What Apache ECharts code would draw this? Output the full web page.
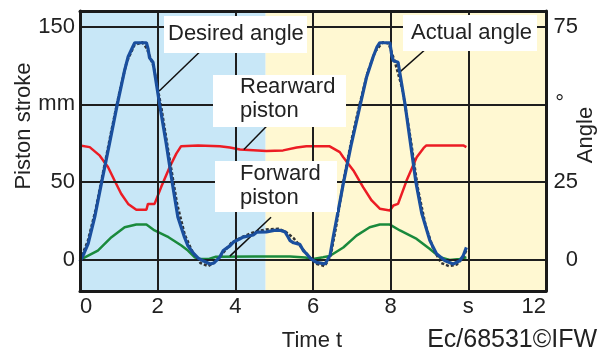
<!DOCTYPE html>
<html><head><meta charset="utf-8">
<script src="https://cdn.jsdelivr.net/npm/echarts@6/dist/echarts.min.js"></script>
<style>html,body{margin:0;padding:0;background:#fff}#c{width:597px;height:352px}</style>
</head><body><div id="c"></div>
<script>
// ---- data (time in s) ----
const xTickLabels = {0:'0',2:'2',4:'4',6:'6',8:'8',10:'s',12:'12'};
const strokeTickLabels = {0:'0',50:'50',100:'mm',150:'150'};
const angleTickLabels = {0:'0',25:'25',50:'°',75:'75'};
const phaseSplit = 4.78;

const actualTime = [0,0.1,0.21,0.38,0.55,0.76,0.96,1.15,1.24,1.36,1.41,1.71,1.75,1.79,1.88,2.05,2.22,2.38,2.52,2.69,2.78,2.93,3.05,3.17,3.35,3.45,3.6,3.69,3.86,3.95,4.12,4.2,4.46,4.55,4.8,5.0,5.15,5.28,5.35,5.41,5.5,5.66,5.75,5.83,5.95,6.09,6.31,6.44,6.52,6.65,6.78,6.99,7.21,7.38,7.55,7.65,7.72,7.98,8.03,8.07,8.19,8.37,8.51,8.65,8.8,9.01,9.18,9.4,9.61,9.78,9.87,9.92,9.95];
const actualAngle = [-0.5,2,5.2,13.8,24.5,37.4,50,61,65.3,68.5,69.8,69.8,68,65,63.5,50,37.4,24.5,13.8,7.3,4.5,2,0.5,-0.3,-1.3,-1,0.9,3,4.5,5.7,6.8,7.3,8,8.9,9,9.5,9.5,9,7.5,6.2,5.5,5,3,2,0.3,-0.8,-1.3,1.5,7.3,15.9,24.5,37.4,49.5,58.8,65.3,68.5,69.8,69.8,65.5,64,63.5,50,37.5,25,15,6.2,2,-0.3,-1.3,-0.3,1.4,1.5,4];

const desiredTime = [0,0.2,0.4,0.6,0.8,1.0,1.2,1.4,1.6,1.72,1.9,2.1,2.3,2.5,2.7,2.9,3.1,3.3,3.5,3.7,3.9,4.2,4.5,4.8,5.1,5.3,5.5,5.7,5.9,6.1,6.3,6.45,6.6,6.8,7.0,7.2,7.4,7.6,7.8,7.95,8.1,8.3,8.5,8.7,8.9,9.1,9.3,9.5,9.7,9.85,9.95];
const desiredAngle = [0,6,16,28.5,41,53,63.5,69,70,68,62,48.5,33,18,8,2.5,-1,-2,-0.5,2.5,5.5,7.5,9,9.8,10,9,7,4,1,-1.3,-2,1,11,26.5,39,50,60,67,70,69.5,64,55,40,23,11,3.5,-1,-2,-1.5,0.5,3];

const rearTime = [0,0.25,0.51,0.72,0.89,1.06,1.24,1.45,1.71,1.75,1.92,2.09,2.31,2.48,2.6,2.65,3.04,3.6,3.86,4.12,4.8,5.23,5.58,5.83,6.43,6.69,6.78,7.04,7.29,7.51,7.72,7.98,8.07,8.19,8.41,8.67,8.85,8.92,9.87,9.95];
const rearStroke = [73.6,72.5,67,59.7,51,42.5,36,32.2,32.2,36,36,46.8,59.7,68.3,73,73.6,73.6,73,72.2,70.9,70,70.4,72.2,73,73,69.3,66,57.5,46.8,38.2,32.9,31.8,35,36,51,66,72,73.6,73.6,72.5];

const frontTime = [0,0.46,0.81,1.15,1.45,1.71,1.92,2.28,2.61,2.78,2.95,3.1,3.3,3.5,4.5,5.41,5.8,6.0,6.26,6.43,6.78,7.12,7.46,7.72,7.98,8.24,8.67,9.01,9.27,9.52,9.78,9.95];
const frontStroke = [0,6,14.6,21,22.7,22.7,18.9,14.6,9.2,6,1.7,0.5,0.5,2,2.2,2.1,1.5,0.6,1.7,2.5,8,15.6,21,22.7,22.7,18.9,13.5,7,1.7,0,0.6,1.7];

// leader lines of the annotations (time, stroke mm)
const leaderLines = [
  [[3.22,137],[2.04,108.6]],
  [[8.97,137],[8.24,120.9]],
  [[4.83,86.5],[4.22,70.9]],
  [[4.92,27.4],[3.86,2.4]]
];
const gridX = [2,4,6,8,10];
const gridY = [0,50,100,150];

// ---- chart ----
const zip = (a,b) => a.map((v,i)=>[v,b[i]]);
const FONT = 'Liberation Sans, Arial, sans-serif';
const TXT = '#222';
const axisLine = {show:true, onZero:false, lineStyle:{color:'#1a1a1a', width:3}};

const chart = echarts.init(document.getElementById('c'), null, {renderer:'canvas'});
chart.setOption({
  animation:false,
  grid:{left:80, right:51, top:11, bottom:61},
  xAxis:[
    {type:'value', min:0, max:12, interval:2, position:'bottom', z:10,
     axisLine, axisTick:{show:false}, splitLine:{show:false},
     axisLabel:{formatter:v=>xTickLabels[v]??'', color:TXT, fontSize:22, fontFamily:FONT, margin:5,
       alignMinLabel:'left', alignMaxLabel:'right'}},
    {type:'value', min:0, max:12, interval:2, position:'top', z:10,
     axisLine, axisTick:{show:false}, splitLine:{show:false}, axisLabel:{show:false}}
  ],
  yAxis:[
    {type:'value', min:-20, max:160, interval:10, position:'left', z:10,
     axisLine, axisTick:{show:false}, splitLine:{show:false},
     axisLabel:{formatter:v=>strokeTickLabels[v]??'', color:TXT, fontSize:22, fontFamily:FONT, margin:5}},
    {type:'value', min:-10, max:80, interval:5, position:'right', z:10,
     axisLine, axisTick:{show:false}, splitLine:{show:false},
     axisLabel:{formatter:v=>{const s=angleTickLabels[v]; if(s===undefined) return ''; return s==='°'?'{deg|°}':s;},
       color:TXT, fontSize:22, fontFamily:FONT, margin:32, align:'right',
       rich:{deg:{fontSize:22, fontFamily:FONT, color:TXT, padding:[0,14,0,0]}}}}
  ],
  series:[
    {type:'line', data:[], z:1, silent:true,
     markArea:{silent:true, label:{show:false},
       data:[
         [{xAxis:0, itemStyle:{color:'#c8e7f7'}},{xAxis:phaseSplit}],
         [{xAxis:phaseSplit, itemStyle:{color:'#fff8d2'}},{xAxis:12}]
       ]}},
    {type:'line', data:[], z:2, silent:true,
     markLine:{silent:true, symbol:'none', label:{show:false},
       lineStyle:{color:'#1e1e1e', width:2, type:'solid'},
       data:[...gridX.map(x=>({xAxis:x})), ...gridY.map(y=>({yAxis:y}))]}},
    {name:'Forward piston', type:'line', data:zip(frontTime,frontStroke), showSymbol:false, z:3,
     lineStyle:{color:'#1a8a3c', width:2.5}},
    {name:'Rearward piston', type:'line', data:zip(rearTime,rearStroke), showSymbol:false, z:3,
     lineStyle:{color:'#ec1c24', width:2.5}},
    {name:'Desired angle', type:'line', yAxisIndex:1, data:zip(desiredTime,desiredAngle), showSymbol:false, z:4,
     lineStyle:{color:'#333', width:2.5, type:[3,2]}},
    {name:'Actual angle', type:'line', yAxisIndex:1, data:zip(actualTime,actualAngle), showSymbol:false, z:5,
     lineStyle:{color:'#1a4f9e', width:3.2}},
    {type:'line', data:[], z:6, silent:true,
     markLine:{silent:true, symbol:'none', label:{show:false},
       lineStyle:{color:'#111', width:1.5, type:'solid'},
       data:leaderLines.map(l=>[{coord:l[0]},{coord:l[1]}])}}
  ],
  graphic:[
    {type:'rect', z:100, shape:{x:164,y:16,width:143,height:37}, style:{fill:'#fff'}},
    {type:'text', z:101, x:168, y:34, style:{text:'Desired angle', font:'22px '+FONT, fill:TXT, textAlign:'left', textVerticalAlign:'middle'}},
    {type:'rect', z:100, shape:{x:403,y:15,width:134,height:36}, style:{fill:'#fff'}},
    {type:'text', z:101, x:411, y:33, style:{text:'Actual angle', font:'22px '+FONT, fill:TXT, textAlign:'left', textVerticalAlign:'middle'}},
    {type:'rect', z:100, shape:{x:213,y:75,width:133,height:52}, style:{fill:'#fff'}},
    {type:'text', z:101, x:240, y:99, style:{text:'Rearward\npiston', font:'22px '+FONT, lineHeight:24, fill:TXT, textAlign:'left', textVerticalAlign:'middle'}},
    {type:'rect', z:100, shape:{x:215,y:161,width:122,height:51}, style:{fill:'#fff'}},
    {type:'text', z:101, x:240, y:186, style:{text:'Forward\npiston', font:'22px '+FONT, lineHeight:24, fill:TXT, textAlign:'left', textVerticalAlign:'middle'}},
    {type:'text', z:101, x:24, y:126, rotation:Math.PI/2, style:{text:'Piston stroke', font:'22px '+FONT, fill:TXT, textAlign:'center', textVerticalAlign:'middle'}},
    {type:'text', z:101, x:586, y:135, rotation:Math.PI/2, style:{text:'Angle', font:'22px '+FONT, fill:TXT, textAlign:'center', textVerticalAlign:'middle'}},
    {type:'text', z:101, x:312, y:341, style:{text:'Time t', font:'22px '+FONT, fill:TXT, textAlign:'center', textVerticalAlign:'middle'}},
    {type:'text', z:101, x:597, y:340, style:{text:'Ec/68531©IFW', font:'25px '+FONT, fill:TXT, textAlign:'right', textVerticalAlign:'middle'}}
  ]
});
</script></body></html>
